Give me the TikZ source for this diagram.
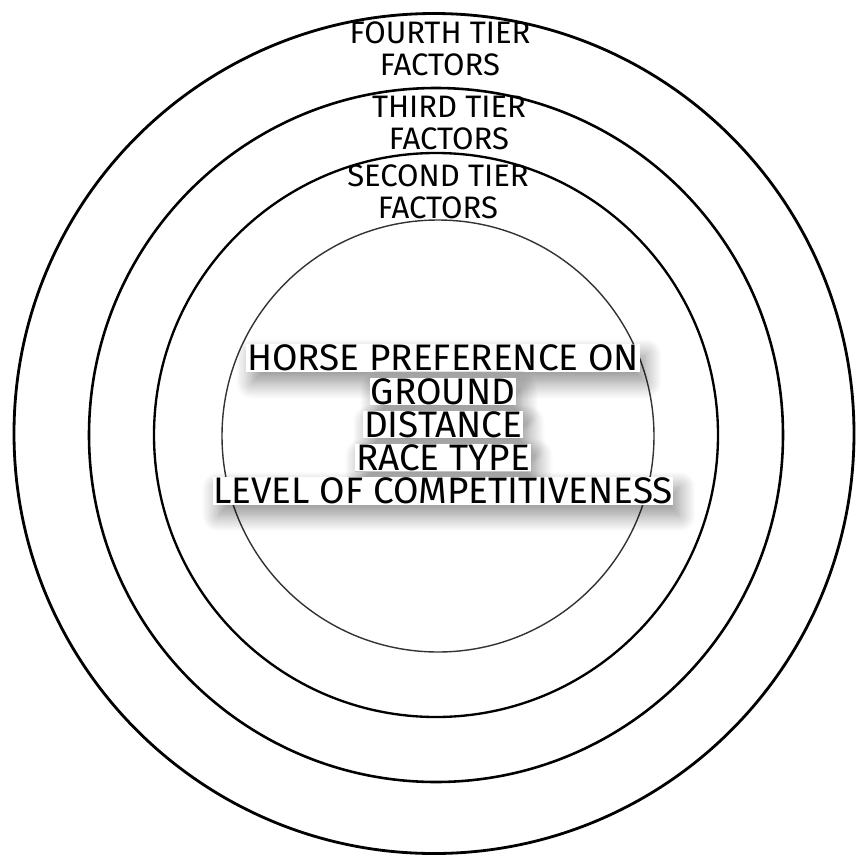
\documentclass[tikz,border=0pt]{standalone}
\usepackage{fontspec}
\setmainfont{Fira Sans}
\usetikzlibrary{positioning,shadows.blur}
\tikzset{
    ring/.style={
        draw=black,
        line width=2pt,
    },
    tierlabel/.style={
        align=center,
        inner sep=0pt,
        font=\fontsize{26.5}{27.2}\selectfont,
    },
    coreline/.style={
        fill=white,
        inner sep=0.5pt,
        font=\fontsize{31.5}{28}\selectfont,
        blur shadow={shadow xshift=5pt, shadow yshift=-9pt,
            shadow opacity=45, shadow blur steps=16, shadow blur radius=14pt},
    },
}

\begin{document}
\begin{tikzpicture}[x=0.03cm,y=-0.03cm]
    \useasboundingbox (0,0) rectangle (856,858);
    \coordinate (ctr) at (436,435);
    % rings, outermost first
    \draw[ring,line width=2.4pt] (434,433.5) circle[radius=420];
    \draw[ring,line width=2.2pt] (ctr) circle[radius=347];
    \draw[ring] (ctr) circle[radius=282];
    \draw[ring,line width=1.2pt,draw=black!80] (438,436) circle[radius=216];
    % tier labels
    \node[tierlabel] (fourth) at (440,49) {FOURTH TIER\\FACTORS};
    \node[tierlabel] (third) at (449,123) {THIRD TIER\\FACTORS};
    \node[tierlabel] (second) at (438,192) {SECOND TIER\\FACTORS};
    % core factors
    \foreach \txt [count=\i] in {HORSE PREFERENCE ON,GROUND,DISTANCE,RACE TYPE,LEVEL OF COMPETITIVENESS}
        \node[coreline] (core\i) at (443,325+33.2*\i) {\txt};
\end{tikzpicture}
\end{document}
